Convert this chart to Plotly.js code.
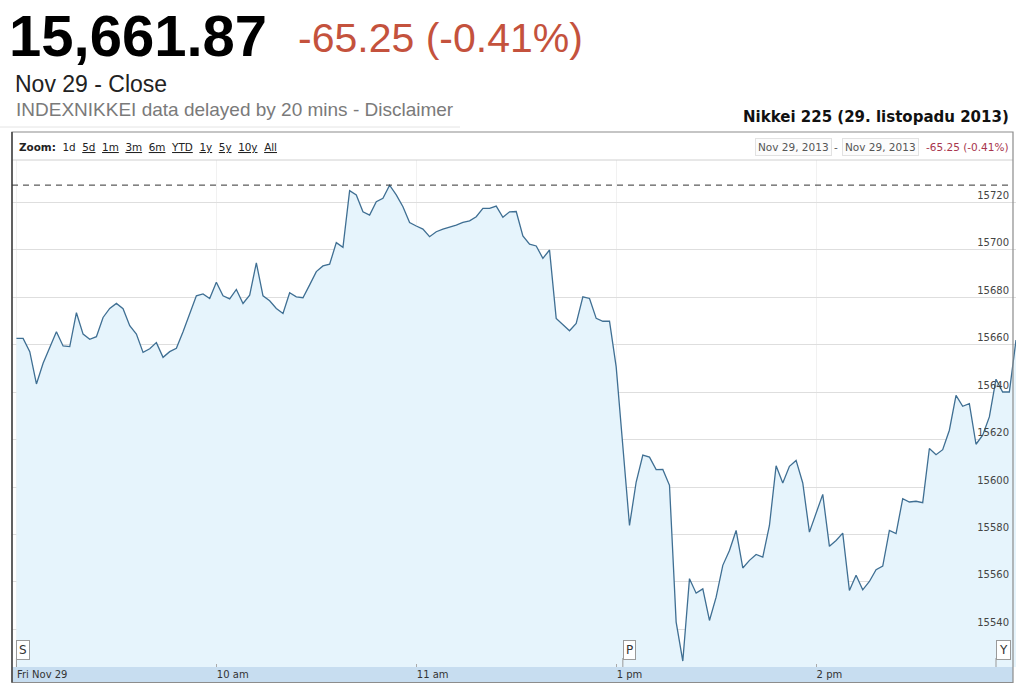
<!DOCTYPE html>
<html><head><meta charset="utf-8">
<script src="https://cdn.plot.ly/plotly-3.0.1.min.js"></script>
<style>html,body{margin:0;padding:0;background:#fff;}#chart{width:1016px;height:683px;}</style>
</head><body><div id="chart"></div>
<script>
// ---------- data ----------
const tradeDate = '2013-11-29';
const morningStart = '09:00';
const afternoonStart = '12:30';
const intervalMinutes = 2;
const morningValues = [
  15662.6, 15662.6, 15657.0, 15643.4, 15652.1, 15659.1, 15665.4, 15659.4, 15659.1, 15673.4,
  15664.4, 15662.2, 15663.3, 15671.4, 15675.2, 15677.3, 15675.1, 15667.9, 15664.4, 15656.7,
  15658.2, 15660.8, 15654.6, 15657.0, 15658.4, 15665.4, 15673.1, 15680.5, 15681.3, 15679.4,
  15686.2, 15680.5, 15679.2, 15683.2, 15677.3, 15680.8, 15694.4, 15680.5, 15678.4, 15675.2,
  15673.1, 15681.8, 15680.1, 15679.7, 15685.1, 15690.7, 15693.1, 15693.8, 15702.9, 15700.9,
  15724.8, 15723.0, 15715.9, 15714.5, 15720.1, 15721.6, 15727.1, 15723.0, 15718.0, 15711.4,
  15709.9, 15708.6, 15705.4, 15707.5, 15708.6, 15709.3, 15710.3, 15711.4, 15712.1, 15713.8,
  15717.3, 15717.3, 15718.3, 15713.6, 15715.9, 15716.3
];
const afternoonValues = [
  15716.0, 15705.7, 15702.3, 15701.5, 15696.3, 15699.8, 15671.0, 15668.2, 15665.8, 15668.9,
  15680.1, 15679.4, 15671.0, 15669.8, 15669.8, 15650.6, 15615.5, 15583.8, 15602.1, 15613.4,
  15612.6, 15607.3, 15607.4, 15600.7, 15543.1, 15526.7, 15561.4, 15555.3, 15557.1, 15543.8,
  15553.6, 15567.0, 15573.3, 15581.7, 15565.9, 15569.1, 15571.6, 15570.5, 15583.8, 15608.9,
  15601.7, 15608.7, 15611.2, 15601.7, 15581.0, 15588.8, 15596.9, 15575.0, 15577.5, 15580.6,
  15556.4, 15562.8, 15556.7, 15560.2, 15565.2, 15566.7, 15581.7, 15580.4, 15595.1, 15593.7,
  15594.0, 15593.4, 15616.2, 15613.6, 15615.7, 15623.9, 15638.6, 15634.0, 15635.1, 15618.0,
  15621.8, 15629.5, 15645.4, 15640.0, 15640.0, 15661.87
];
const lastPrice = '15,661.87';
const changeText = '-65.25 (-0.41%)';
const prevClose = 15727.12;
const closeLabel = 'Nov 29 - Close';
const delayNote = 'INDEXNIKKEI data delayed by 20 mins - Disclaimer';
const chartTitle = 'Nikkei 225 (29. listopadu 2013)';
const rangeFrom = 'Nov 29, 2013';
const rangeTo = 'Nov 29, 2013';
const zoomLinks = ['1d', '5d', '1m', '3m', '6m', 'YTD', '1y', '5y', '10y', 'All'];
const yTickVals = [15540, 15560, 15580, 15600, 15620, 15640, 15660, 15680, 15700, 15720];
const xTickTimes = ['09:00', '10:00', '11:00', '13:00', '14:00'];
const xTickLabels = ['Fri Nov 29', '10 am', '11 am', '1 pm', '2 pm'];
const flagTimes = ['09:00', '13:02', '14:54'];
const flagLabels = ['S', 'P', 'Y'];

// ---------- helpers ----------
function pad(n) { return (n < 10 ? '0' : '') + n; }
function stamp(hhmm) { return tradeDate + ' ' + hhmm; }
function sessionTimes(start, count) {
  const [h, m] = start.split(':').map(Number);
  const out = [];
  for (let i = 0; i < count; i++) {
    const t = h * 60 + m + i * intervalMinutes;
    out.push(stamp(pad(Math.floor(t / 60)) + ':' + pad(t % 60)));
  }
  return out;
}
const times = sessionTimes(morningStart, morningValues.length)
  .concat(sessionTimes(afternoonStart, afternoonValues.length));
const values = morningValues.concat(afternoonValues);

const W = 1016, H = 683, L = 12, R = 0, T = 160, B = 16;
const pw = W - L - R, ph = H - T - B;
const px = x => (x - L) / pw;
const py = y => (H - B - y) / ph;

const SANS = 'Liberation Sans, Arial, sans-serif';
const VERD = 'DejaVu Sans, Verdana, sans-serif';

const trace = {
  x: times, y: values, type: 'scatter', mode: 'lines',
  line: {color: '#3f6f93', width: 1.3},
  fill: 'tozeroy', fillcolor: '#e6f4fc',
  connectgaps: true,
  hoverinfo: 'skip'
};

const annotations = [
  {text: '<b>' + lastPrice + '</b>', x: px(7), y: py(35), xanchor: 'left', yanchor: 'middle',
   font: {family: SANS, size: 58, color: '#000'}},
  {text: changeText, x: px(296), y: py(38), xanchor: 'left', yanchor: 'middle',
   font: {family: SANS, size: 41, color: '#c4523d'}},
  {text: closeLabel, x: px(13), y: py(84), xanchor: 'left', yanchor: 'middle',
   font: {family: SANS, size: 23, color: '#222'}},
  {text: delayNote, x: px(14), y: py(110), xanchor: 'left', yanchor: 'middle',
   font: {family: SANS, size: 19, color: '#7a7a7a'}},
  {text: '<b>' + chartTitle + '</b>', x: px(1011), y: py(117), xanchor: 'right', yanchor: 'middle',
   font: {family: VERD, size: 15, color: '#111'}},
  {text: '<b>Zoom:</b>  ' + zoomLinks.map((z, i) => i === 0 ? z : '<u>' + z + '</u>').join('  '),
   x: px(17), y: py(147), xanchor: 'left', yanchor: 'middle',
   font: {family: VERD, size: 10.4, color: '#222'}},
  {text: rangeFrom, x: px(793), y: py(147), xanchor: 'center', yanchor: 'middle',
   font: {family: VERD, size: 10.5, color: '#555'}, bordercolor: '#e2e2e2', borderwidth: 1, borderpad: 2, bgcolor: '#fcfcfc'},
  {text: '-', x: px(836), y: py(147), xanchor: 'center', yanchor: 'middle',
   font: {family: VERD, size: 10.5, color: '#555'}},
  {text: rangeTo, x: px(880), y: py(147), xanchor: 'center', yanchor: 'middle',
   font: {family: VERD, size: 10.5, color: '#555'}, bordercolor: '#e2e2e2', borderwidth: 1, borderpad: 2, bgcolor: '#fcfcfc'},
  {text: changeText, x: px(1011), y: py(147), xanchor: 'right', yanchor: 'middle',
   font: {family: VERD, size: 10.5, color: '#a8354c'}}
];

const shapes = [
  // axis band at bottom
  {type: 'rect', xref: 'paper', yref: 'paper', x0: 0, x1: px(1013), y0: py(H), y1: 0,
   fillcolor: '#c7ddf0', line: {width: 0}, layer: 'below'},
  // header separator
  {type: 'line', xref: 'paper', yref: 'paper', x0: px(0), x1: px(460), y0: py(127), y1: py(127),
   line: {color: '#e4e4e4', width: 1}},
  // zoom bar separator
  {type: 'line', xref: 'paper', yref: 'paper', x0: 0, x1: px(1013), y0: 1, y1: 1,
   line: {color: '#d0d0d0', width: 1}},
  // outer frame
  {type: 'rect', xref: 'paper', yref: 'paper', x0: 0, x1: px(1013), y0: py(H - 0.5), y1: py(132),
   line: {color: '#8c8c8c', width: 1.2}, fillcolor: 'rgba(0,0,0,0)'},
  // darker left edge
  {type: 'line', xref: 'paper', yref: 'paper', x0: 0, x1: 0, y0: py(H - 0.5), y1: py(132),
   line: {color: '#444', width: 1.5}},
  // previous close dashed line
  {type: 'line', xref: 'paper', yref: 'y', x0: 0, x1: px(1013), y0: prevClose, y1: prevClose,
   line: {color: '#333', width: 1, dash: '6px,5px'}}
];

flagTimes.forEach((t, i) => {
  const dx = stamp(t);
  shapes.push({type: 'line', xref: 'x', yref: 'paper', x0: dx, x1: dx, y0: 0, y1: py(658),
               line: {color: '#999', width: 1}});
  annotations.push({text: flagLabels[i], x: dx, y: py(650), xref: 'x', yref: 'paper',
    xanchor: 'left', yanchor: 'middle', showarrow: false,
    font: {family: VERD, size: 12, color: '#333'}, bgcolor: '#fff',
    bordercolor: '#9a9a9a', borderwidth: 1, borderpad: 2});
});

annotations.forEach(a => {
  if (!a.xref) a.xref = 'paper';
  if (!a.yref) a.yref = 'paper';
  a.showarrow = false;
});

const layout = {
  width: W, height: H,
  margin: {l: L, r: R, t: T, b: B, pad: 0},
  paper_bgcolor: '#fff', plot_bgcolor: '#fff',
  showlegend: false,
  xaxis: {
    type: 'date',
    range: [stamp('08:58:40'), stamp('15:00:00')],
    rangebreaks: [{bounds: [11.5, 12.5], pattern: 'hour'}],
    tickvals: xTickTimes.map(stamp), ticktext: xTickLabels,
    ticklabelposition: 'outside right',
    ticks: 'inside', ticklen: 3, tickcolor: '#aaa',
    tickfont: {family: VERD, size: 10, color: '#333'},
    showgrid: true, gridcolor: '#f1f1f1', gridwidth: 1,
    showline: false, zeroline: false, fixedrange: true
  },
  yaxis: {
    side: 'right',
    range: [15524.2, 15737.7],
    tickvals: yTickVals,
    tickformat: 'd',
    ticklabelposition: 'inside top',
    ticklabelstandoff: 4,
    ticks: '',
    tickfont: {family: VERD, size: 10, color: '#444'},
    showgrid: true, gridcolor: '#dedede', gridwidth: 1,
    showline: false, zeroline: false, fixedrange: true
  },
  shapes: shapes,
  annotations: annotations
};

Plotly.newPlot('chart', [trace], layout, {displayModeBar: false, staticPlot: true});
</script>
</body></html>
